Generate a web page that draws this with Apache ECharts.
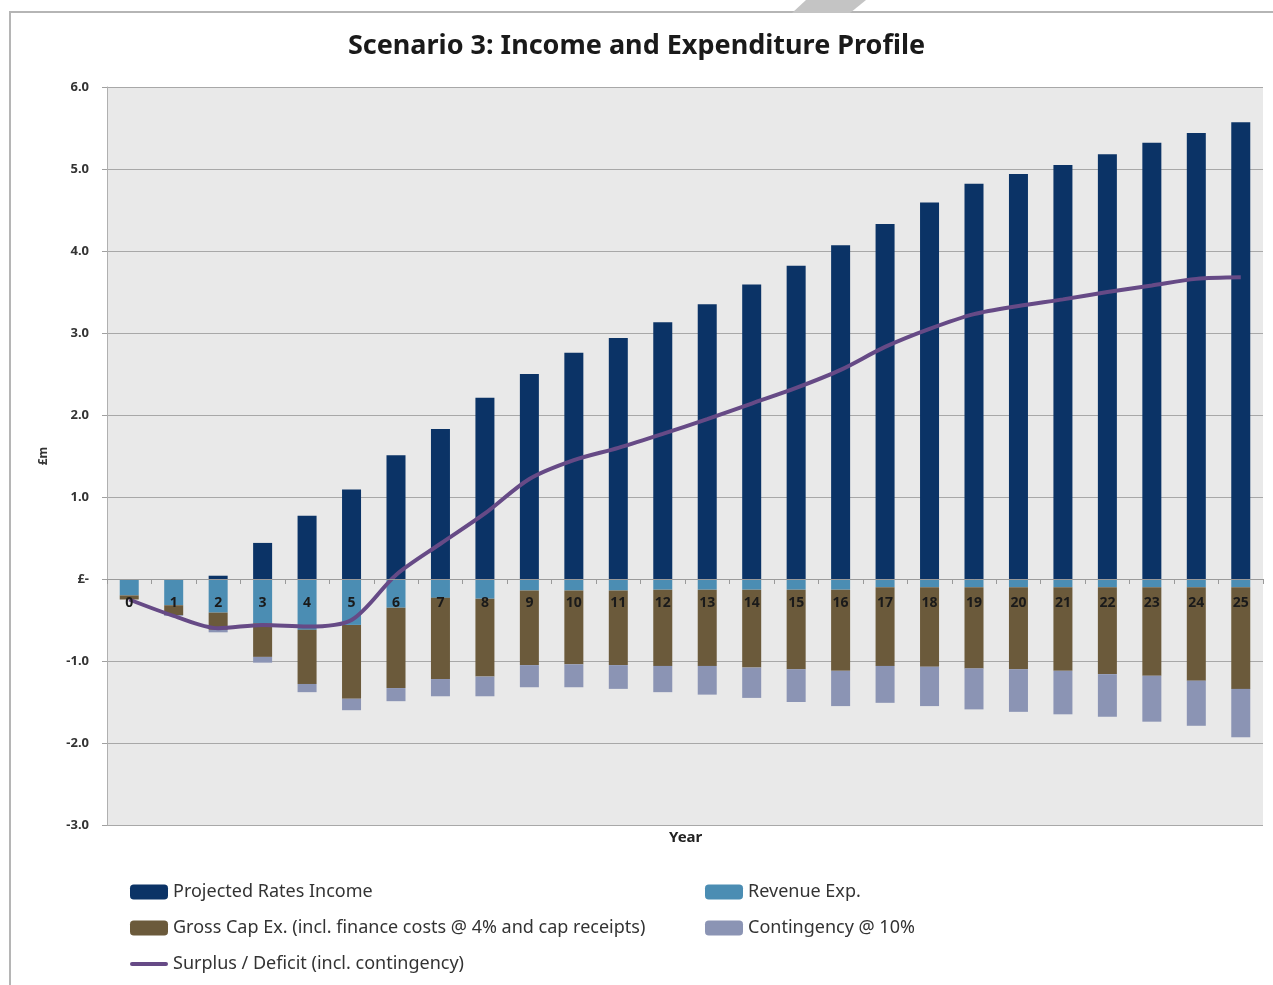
<!DOCTYPE html>
<html>
<head>
    <meta charset="utf-8">
    <title>Scenario 3: Income and Expenditure Profile</title>
    <script src="https://cdn.jsdelivr.net/npm/echarts@6/dist/echarts.min.js"></script>
    <style>
        html, body { margin: 0; padding: 0; background: #fff; }
        #main { width: 1273px; height: 985px; }
    </style>
</head>
<body>
<div id="main"></div>
<script type="text/javascript">
    // years on the x axis
    var years = ['0','1','2','3','4','5','6','7','8','9','10','11','12','13','14','15','16','17','18','19','20','21','22','23','24','25'];

    // £m
    var ratesIncome = [0, 0, 0.04, 0.44, 0.77, 1.09, 1.51, 1.83, 2.21, 2.50, 2.76, 2.94, 3.13, 3.35, 3.59, 3.82, 4.07, 4.33, 4.59, 4.82, 4.94, 5.05, 5.18, 5.32, 5.44, 5.57];
    var revenueExp = [-0.20, -0.32, -0.41, -0.54, -0.62, -0.56, -0.35, -0.23, -0.24, -0.14, -0.14, -0.14, -0.13, -0.13, -0.13, -0.13, -0.13, -0.10, -0.10, -0.10, -0.10, -0.10, -0.10, -0.10, -0.10, -0.10];
    var grossCapEx = [-0.05, -0.12, -0.21, -0.41, -0.66, -0.90, -0.98, -0.99, -0.95, -0.91, -0.90, -0.91, -0.93, -0.93, -0.95, -0.97, -0.99, -0.96, -0.97, -0.99, -1.00, -1.02, -1.06, -1.08, -1.14, -1.24];
    var contingency = [0, -0.01, -0.03, -0.07, -0.10, -0.14, -0.16, -0.21, -0.24, -0.27, -0.28, -0.29, -0.32, -0.35, -0.37, -0.40, -0.43, -0.45, -0.48, -0.50, -0.52, -0.53, -0.52, -0.56, -0.55, -0.59];
    var surplus = [-0.25, -0.45, -0.60, -0.56, -0.58, -0.50, 0.05, 0.43, 0.80, 1.22, 1.45, 1.60, 1.77, 1.95, 2.14, 2.33, 2.55, 2.83, 3.05, 3.23, 3.33, 3.41, 3.50, 3.58, 3.66, 3.68];

    var font = 'Noto Sans';
    var legendText = { fontFamily: font, fontSize: 18, color: '#333', lineHeight: 20 };
    var lineIcon = 'path://M2,0 L36,0 A2,2 0 0 1 36,4 L2,4 A2,2 0 0 1 2,0 Z';

    var myChart = echarts.init(document.getElementById('main'));
    var option = {
        backgroundColor: '#ffffff',
        animation: false,
        title: {
            text: 'Scenario 3: Income and Expenditure Profile',
            left: 'center',
            top: 28,
            textStyle: { fontFamily: font, fontSize: 27, fontWeight: 'bold', color: '#1a1a1a' }
        },
        graphic: [
            { type: 'polyline', shape: { points: [[10, 985], [10, 12], [1273, 12]] }, style: { stroke: '#b5b5b5', lineWidth: 2, fill: null } },
            { type: 'polygon', shape: { points: [[806, 0], [866, 0], [850, 13], [792, 13]] }, style: { fill: '#c4c4c4' } },
            { type: 'text', left: 669, top: 830, style: { text: 'Year', fontFamily: font, fontSize: 15, fontWeight: 'bold', fill: '#222' } }
        ],
        color: ['#0b3366', '#4b8db3', '#6b5a3b', '#8b94b4', '#664a86'],
        legend: [{
            left: 125,
            top: 877,
            orient: 'vertical',
            itemWidth: 38,
            itemHeight: 15,
            itemGap: 16,
            textStyle: legendText,
            data: [
                'Projected Rates Income',
                'Gross Cap Ex. (incl. finance costs @ 4% and cap receipts)',
                { name: 'Surplus / Deficit (incl. contingency)', icon: lineIcon }
            ]
        }, {
            left: 700,
            top: 877,
            orient: 'vertical',
            itemWidth: 38,
            itemHeight: 15,
            itemGap: 16,
            textStyle: legendText,
            data: ['Revenue Exp.', 'Contingency @ 10%']
        }],
        grid: {
            left: 107,
            right: 10,
            top: 87,
            bottom: 160,
            show: true,
            backgroundColor: '#e9e9e9',
            borderWidth: 0
        },
        xAxis: {
            type: 'category',
            data: years,
            z: 10,
            // sit the category axis on the zero line
            offset: -246,
            axisLine: { onZero: false, lineStyle: { color: '#9a9a9a', width: 1 } },
            axisTick: { show: true, length: 5, lineStyle: { color: '#9a9a9a' } },
            axisLabel: { margin: 17, fontFamily: font, fontSize: 14, fontWeight: 'bold', color: '#1a1a1a' }
        },
        yAxis: {
            type: 'value',
            min: -3,
            max: 6,
            interval: 1,
            name: '£m',
            nameLocation: 'middle',
            nameRotate: 90,
            nameGap: 57,
            nameTextStyle: { fontFamily: font, fontSize: 12, fontWeight: 'bold', color: '#333' },
            axisLine: { show: true, lineStyle: { color: '#b0b0b0' } },
            axisTick: { show: true, length: 5, lineStyle: { color: '#a0a0a0' } },
            axisLabel: {
                margin: 18,
                fontFamily: font,
                fontSize: 13,
                fontWeight: 'bold',
                color: '#333',
                formatter: function (v) { return v === 0 ? '£-' : v.toFixed(1); }
            },
            splitLine: { lineStyle: { color: '#a8a8a8', width: 1 } }
        },
        series: [{
            name: 'Projected Rates Income',
            type: 'bar',
            stack: 'total',
            barWidth: 19,
            data: ratesIncome
        }, {
            name: 'Revenue Exp.',
            type: 'bar',
            stack: 'total',
            barWidth: 19,
            data: revenueExp
        }, {
            name: 'Gross Cap Ex. (incl. finance costs @ 4% and cap receipts)',
            type: 'bar',
            stack: 'total',
            barWidth: 19,
            data: grossCapEx
        }, {
            name: 'Contingency @ 10%',
            type: 'bar',
            stack: 'total',
            barWidth: 19,
            data: contingency
        }, {
            name: 'Surplus / Deficit (incl. contingency)',
            type: 'line',
            smooth: 0.3,
            symbol: 'none',
            z: 5,
            lineStyle: { width: 4, color: '#664a86' },
            data: surplus
        }]
    };
    myChart.setOption(option);
</script>
</body>
</html>
